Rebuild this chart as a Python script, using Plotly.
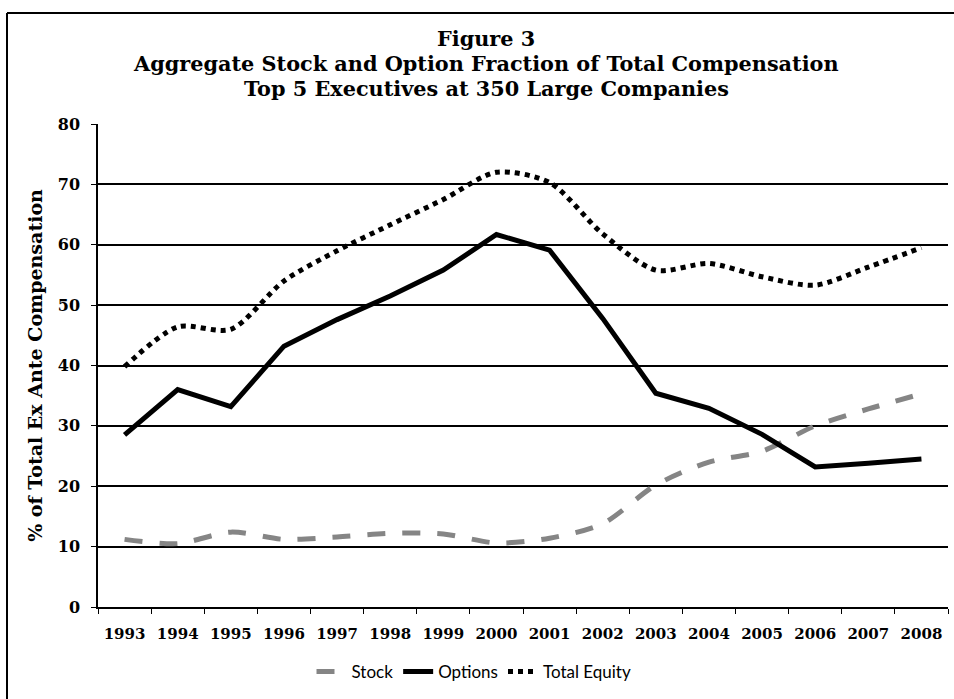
import plotly.graph_objects as go

years = ["1993", "1994", "1995", "1996", "1997", "1998", "1999", "2000",
         "2001", "2002", "2003", "2004", "2005", "2006", "2007", "2008"]
stock = [11.2, 10.5, 12.4, 11.2, 11.6, 12.2, 12.1, 10.6,
         11.4, 13.8, 20.2, 24.0, 25.8, 30.0, 32.8, 35.3]
options = [28.5, 36.0, 33.2, 43.2, 47.6, 51.5, 55.8, 61.7,
           59.1, 47.8, 35.4, 32.9, 28.6, 23.2, 23.8, 24.5]
total_equity = [39.8, 46.4, 46.0, 54.0, 59.0, 63.3, 67.5, 72.0,
                70.3, 61.8, 55.8, 56.9, 54.7, 53.3, 56.3, 59.5]
y_ticks = [0, 10, 20, 30, 40, 50, 60, 70, 80]

serif = "DejaVu Serif"
fig = go.Figure()
fig.add_trace(go.Scatter(x=years, y=stock, name="Stock", mode="lines",
                         line=dict(color="#858585", width=5, dash="18px,17px",
                                   shape="spline", smoothing=0.8)))
fig.add_trace(go.Scatter(x=years, y=options, name="Options", mode="lines",
                         line=dict(color="black", width=5)))
fig.add_trace(go.Scatter(x=years, y=total_equity, name="Total Equity", mode="lines",
                         line=dict(color="black", width=5, dash="5px,5px",
                                   shape="spline", smoothing=0.8)))

L, R, T, B = 98, 6, 124, 92
W, H = 954, 699
pw, ph = W - L - R, H - T - B

def px(x):
    return (x - L) / pw

def py(y):
    return (H - B - y) / ph

title_font = dict(family=serif, size=20.8, color="black", weight="bold")

fig.update_layout(
    width=W, height=H,
    margin=dict(l=L, r=R, t=T, b=B),
    paper_bgcolor="white", plot_bgcolor="white",
    showlegend=True,
    legend=dict(orientation="h", x=px(474), xanchor="center", y=py(672), yanchor="middle",
                font=dict(family="Lato", size=17, color="black"),
                itemwidth=30, traceorder="normal"),
    xaxis=dict(type="category", range=[-0.5, 15.5], showline=True, linecolor="black", linewidth=1.5,
               ticks="outside", tickson="boundaries", ticklen=5, tickcolor="black",
               ticklabelstandoff=12,
               showgrid=False, tickfont=dict(family=serif, size=15, color="black", weight="bold"),
               fixedrange=True),
    yaxis=dict(range=[0, 80], tickvals=y_ticks, showline=True, linecolor="black", linewidth=1.5,
               ticks="outside", ticklen=5, tickcolor="black", ticklabelstandoff=8,
               showgrid=True, gridcolor="black", gridwidth=1.5, zeroline=False,
               tickfont=dict(family=serif, size=16, color="black", weight="bold"),
               title=dict(text="% of Total Ex Ante Compensation", standoff=10,
                          font=dict(family=serif, size=19, color="black", weight="bold"))),
    annotations=[
        dict(xref="paper", yref="paper", x=px(486), y=py(38), xanchor="center", yanchor="middle",
             text="Figure 3", showarrow=False, font=title_font),
        dict(xref="paper", yref="paper", x=px(486), y=py(64), xanchor="center", yanchor="middle",
             text="Aggregate Stock and Option Fraction of Total Compensation", showarrow=False,
             font=title_font),
        dict(xref="paper", yref="paper", x=px(486), y=py(89), xanchor="center", yanchor="middle",
             text="Top 5 Executives at 350 Large Companies", showarrow=False, font=title_font),
    ],
    shapes=[
        dict(type="line", xref="paper", yref="paper", x0=px(7), x1=px(954), y0=py(13), y1=py(13),
             line=dict(color="black", width=2)),
        dict(type="line", xref="paper", yref="paper", x0=px(7), x1=px(7), y0=py(13), y1=py(699),
             line=dict(color="black", width=2)),
    ],
)

fig.write_html("out.html", config={"displayModeBar": False},
               post_script="document.body.style.margin='0';document.body.style.overflow='hidden';")
